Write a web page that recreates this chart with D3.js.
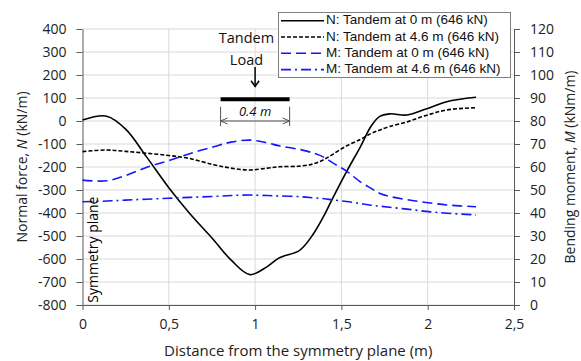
<!DOCTYPE html>
<html>
<head>
<meta charset="utf-8">
<script src="https://cdn.jsdelivr.net/npm/d3@7"></script>
<style>
  body { margin: 0; background: #fff; }
  svg { font-family: "Open Sans", sans-serif; }
</style>
</head>
<body>
<div id="chart"></div>
<script>
// distance from the symmetry plane (m)
const xs = [0, 0.14, 0.25, 0.37, 0.5, 0.62, 0.76, 0.86, 0.97, 1.07, 1.14, 1.26,
  1.34, 1.4, 1.45, 1.53, 1.61, 1.67, 1.72, 1.78, 1.88, 1.99, 2.11, 2.28];

// normal force N (kN/m)
const nTandem0 = [4, 21, -35, -155, -290, -401, -517, -604, -668, -633, -595, -561,
  -488, -410, -335, -220, -112, -25, 19, 31, 26, 52, 84, 103];
const nTandem46 = [-133, -126, -132, -140, -150, -163, -190, -205, -213, -205, -199, -196,
  -186, -167, -145, -108, -80, -55, -40, -24, -4, 24, 48, 58];

// bending moment M (kNm/m)
const mTandem0 = [54.3, 54, 56.3, 59.8, 62.8, 65.8, 68.8, 70.8, 71.7, 70.5, 69.2, 67.6,
  66, 64.2, 61.8, 58.2, 53.5, 50.8, 48.6, 47.2, 45.8, 44.6, 43.5, 42.7];
const mTandem46 = [44.9, 45.2, 45.6, 46, 46.4, 46.8, 47.2, 47.6, 47.8, 47.6, 47.4, 47.1,
  46.6, 46.2, 45.7, 45, 44.1, 43.4, 43, 42.5, 41.7, 40.7, 39.9, 39.2];

const xTicks = [0, 0.5, 1, 1.5, 2, 2.5];
const nTicks = d3.range(-800, 401, 100);
const mTicks = d3.range(0, 121, 10);

const series = [
  {name: 'N: Tandem at 0 m (646 kN)', values: nTandem0, axis: 'N', color: '#000', width: 1.6, dash: null},
  {name: 'N: Tandem at 4.6 m (646 kN)', values: nTandem46, axis: 'N', color: '#000', width: 1.6, dash: '4,2'},
  {name: 'M: Tandem at 0 m (646 kN)', values: mTandem0, axis: 'M', color: '#1515ff', width: 1.6, dash: '10,5'},
  {name: 'M: Tandem at 4.6 m (646 kN)', values: mTandem46, axis: 'M', color: '#1515ff', width: 1.6, dash: '10,4,2,4'}
];

const width = 581, height = 361;
const margin = {top: 29, right: 67, bottom: 56, left: 82.5};

const svg = d3.select('#chart').append('svg')
  .attr('width', width)
  .attr('height', height);

const x = d3.scaleLinear().domain([0, 2.5]).range([margin.left, width - margin.right]);
const yN = d3.scaleLinear().domain([-800, 400]).range([height - margin.bottom, margin.top]);
const yM = d3.scaleLinear().domain([0, 120]).range([height - margin.bottom, margin.top]);

// grid
svg.append('g')
  .selectAll('line')
  .data(nTicks)
  .enter().append('line')
  .attr('x1', x(0)).attr('x2', x(2.5))
  .attr('y1', d => yN(d)).attr('y2', d => yN(d))
  .attr('stroke', '#d9d9d9');

svg.append('g')
  .selectAll('line')
  .data(xTicks.slice(1, -1))
  .enter().append('line')
  .attr('x1', d => x(d)).attr('x2', d => x(d))
  .attr('y1', yN(400)).attr('y2', yN(-800))
  .attr('stroke', '#d9d9d9');

// axes
const fmt = d => String(d).replace('.', ',');

const gx = svg.append('g')
  .attr('transform', `translate(0,${yN(-800)})`)
  .call(d3.axisBottom(x).tickValues(xTicks).tickFormat(fmt).tickSizeInner(5).tickSizeOuter(0).tickPadding(9));

const gl = svg.append('g')
  .attr('transform', `translate(${x(0)},0)`)
  .call(d3.axisLeft(yN).tickValues(nTicks).tickFormat(d => String(d)).tickSizeInner(6).tickSizeOuter(0).tickPadding(10));

const gr = svg.append('g')
  .attr('transform', `translate(${x(2.5)},0)`)
  .call(d3.axisRight(yM).tickValues(mTicks).tickFormat(d => String(d)).tickSizeInner(6).tickSizeOuter(0).tickPadding(10));

[gx, gl, gr].forEach(g => {
  g.selectAll('path, line').attr('stroke', '#595959');
  g.selectAll('text').attr('fill', '#222').style('font-size', '14px').style('font-family', '"Open Sans", sans-serif');
});

// lines
const line = axis => d3.line()
  .x((d, i) => x(xs[i]))
  .y(d => axis === 'N' ? yN(d) : yM(d))
  .curve(d3.curveCatmullRom.alpha(0.5));

svg.append('g')
  .selectAll('path')
  .data(series)
  .enter().append('path')
  .attr('d', d => line(d.axis)(d.values))
  .attr('fill', 'none')
  .attr('stroke', d => d.color)
  .attr('stroke-width', d => d.width)
  .attr('stroke-dasharray', d => d.dash);

// axis titles
svg.append('text')
  .attr('transform', `translate(23,${(yN(400) + yN(-800)) / 2}) rotate(-90)`)
  .attr('text-anchor', 'middle')
  .attr('dominant-baseline', 'middle')
  .style('font-size', '14px')
  .attr('fill', '#222')
  .html('Normal force, <tspan font-style="italic">N</tspan> (kN/m)');

svg.append('text')
  .attr('transform', `translate(571,${(yN(400) + yN(-800)) / 2}) rotate(-90)`)
  .attr('text-anchor', 'middle')
  .attr('dominant-baseline', 'middle')
  .style('font-size', '14px')
  .attr('fill', '#222')
  .html('Bending moment, <tspan font-style="italic">M</tspan> (kNm/m)');

svg.append('text')
  .attr('x', (x(0) + x(2.5)) / 2)
  .attr('y', 352)
  .attr('text-anchor', 'middle')
  .attr('dominant-baseline', 'middle')
  .style('font-size', '15px')
  .attr('fill', '#222')
  .text('Distance from the symmetry plane (m)');

svg.append('text')
  .attr('transform', `translate(${x(0) + 12},${yN(-790)}) rotate(-90)`)
  .attr('text-anchor', 'start')
  .attr('dominant-baseline', 'middle')
  .style('font-size', '14px')
  .attr('fill', '#000')
  .text('Symmetry plane');

// tandem load annotation
const ann = svg.append('g');
ann.append('text')
  .attr('x', x(0.95)).attr('y', yN(355))
  .attr('text-anchor', 'middle').attr('dominant-baseline', 'middle')
  .style('font-size', '14.5px').attr('fill', '#111')
  .text('Tandem');
ann.append('text')
  .attr('x', x(0.95)).attr('y', yN(262))
  .attr('text-anchor', 'middle').attr('dominant-baseline', 'middle')
  .style('font-size', '14.5px').attr('fill', '#111')
  .text('Load');
ann.append('line')
  .attr('x1', x(1)).attr('x2', x(1))
  .attr('y1', yN(235)).attr('y2', yN(150))
  .attr('stroke', '#000').attr('stroke-width', 1.5);
ann.append('path')
  .attr('d', `M${x(1) - 4},${yN(175)} L${x(1)},${yN(150)} L${x(1) + 4},${yN(175)}`)
  .attr('fill', 'none').attr('stroke', '#000').attr('stroke-width', 1.5);
ann.append('line')
  .attr('x1', x(0.8)).attr('x2', x(1.2))
  .attr('y1', yN(95)).attr('y2', yN(95))
  .attr('stroke', '#000').attr('stroke-width', 4);
[0.8, 1.2].forEach(v => {
  ann.append('line')
    .attr('x1', x(v)).attr('x2', x(v))
    .attr('y1', yN(62)).attr('y2', yN(-22))
    .attr('stroke', '#555').attr('stroke-width', 1);
});
ann.append('line')
  .attr('x1', x(0.8)).attr('x2', x(1.2))
  .attr('y1', yN(0)).attr('y2', yN(0))
  .attr('stroke', '#555').attr('stroke-width', 1);
ann.append('path')
  .attr('d', `M${x(0.8) + 7},${yN(0) - 3} L${x(0.8)},${yN(0)} L${x(0.8) + 7},${yN(0) + 3}` +
    `M${x(1.2) - 7},${yN(0) - 3} L${x(1.2)},${yN(0)} L${x(1.2) - 7},${yN(0) + 3}`)
  .attr('fill', 'none').attr('stroke', '#555').attr('stroke-width', 1);
ann.append('text')
  .attr('x', x(1)).attr('y', yN(35))
  .attr('text-anchor', 'middle').attr('dominant-baseline', 'middle')
  .style('font-size', '13px').style('font-style', 'italic').attr('fill', '#111')
  .text('0.4 m');

// legend
const legend = svg.append('g');
legend.append('rect')
  .attr('x', 278.5).attr('y', 12.5)
  .attr('width', 232).attr('height', 65)
  .attr('fill', '#fff').attr('stroke', '#7f7f7f');

const item = legend.selectAll('g')
  .data(series)
  .enter().append('g')
  .attr('transform', (d, i) => `translate(0,${20.7 + i * 16.3})`);

item.append('line')
  .attr('x1', 281).attr('x2', 324)
  .attr('stroke', d => d.color)
  .attr('stroke-width', d => d.width)
  .attr('stroke-dasharray', d => d.dash);

item.append('text')
  .attr('x', 326)
  .attr('dominant-baseline', 'middle')
  .style('font-size', '13.5px')
  .style('font-family', '"Liberation Sans", sans-serif')
  .attr('fill', '#111')
  .text(d => d.name);
</script>
</body>
</html>
